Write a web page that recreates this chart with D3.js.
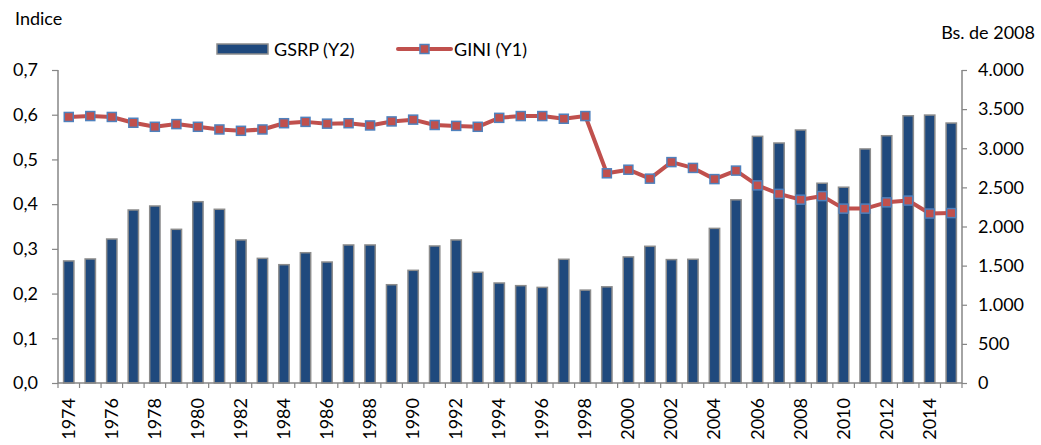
<!DOCTYPE html>
<html>
<head>
<meta charset="utf-8">
<script src="https://cdn.jsdelivr.net/npm/d3@7"></script>
<style>
  body { margin: 0; background: #fff; }
  svg text { font-family: Lato, "Open Sans", sans-serif; fill: #000; }
</style>
</head>
<body>
<div id="chart"></div>
<script>
// years on the x axis
var years = d3.range(1974, 2016);
// GINI index, left axis (Y1)
var gini = [0.595, 0.597, 0.595, 0.582, 0.573, 0.579, 0.573, 0.567, 0.564, 0.567,
            0.581, 0.584, 0.580, 0.581, 0.576, 0.585, 0.589, 0.577, 0.575, 0.573,
            0.593, 0.597, 0.597, 0.591, 0.597, 0.469, 0.477, 0.457, 0.494, 0.481,
            0.456, 0.475, 0.442, 0.423, 0.410, 0.418, 0.390, 0.390, 0.404, 0.408,
            0.379, 0.380];
// GSRP, Bs. de 2008, right axis (Y2)
var gsrp = [1560, 1585, 1840, 2211, 2262, 1964, 2317, 2220, 1828, 1593,
            1512, 1665, 1546, 1764, 1764, 1256, 1440, 1751, 1828, 1415,
            1278, 1244, 1222, 1581, 1187, 1229, 1611, 1747, 1577, 1581,
            1976, 2341, 3152, 3067, 3233, 2553, 2502, 2991, 3160, 3415,
            3424, 3322];
var leftTicks = [0, 0.1, 0.2, 0.3, 0.4, 0.5, 0.6, 0.7];
var rightTicks = [0, 500, 1000, 1500, 2000, 2500, 3000, 3500, 4000];

var width = 1041, height = 445;
var margin = {left: 58, right: 79, top: 70, bottom: 62};
var axisColor = "#868686";
var fs = "18px";

var esLocale = d3.formatLocale({decimal: ",", thousands: ".", grouping: [3], currency: ["", ""]});
var fmtLeft = esLocale.format(".1f");
var fmtRight = esLocale.format(",d");

var svg = d3.select("#chart")
  .append("svg")
  .attr("width", width)
  .attr("height", height);

var x = d3.scaleBand()
  .domain(years)
  .range([margin.left, width - margin.right])
  .paddingInner(0.52)
  .paddingOuter(0.26);

var yLeft = d3.scaleLinear().domain([0, 0.7]).range([height - margin.bottom, margin.top]);
var yRight = d3.scaleLinear().domain([0, 4000]).range([height - margin.bottom, margin.top]);

// bars
svg.append("g").selectAll("rect")
  .data(gsrp)
  .enter().append("rect")
  .attr("x", function(d, i){ return x(years[i]); })
  .attr("y", function(d){ return yRight(d); })
  .attr("width", x.bandwidth())
  .attr("height", function(d){ return yRight(0) - yRight(d); })
  .attr("fill", "#1F497D")
  .attr("stroke", "#8c8c8c")
  .attr("stroke-width", 1.5);

// left axis
var gl = svg.append("g")
  .attr("transform", "translate(" + margin.left + ",0)")
  .call(d3.axisLeft(yLeft).tickValues(leftTicks).tickFormat(fmtLeft).tickSize(6).tickPadding(14));

// right axis
var gr = svg.append("g")
  .attr("transform", "translate(" + (width - margin.right) + ",0)")
  .call(d3.axisRight(yRight).tickValues(rightTicks).tickFormat(fmtRight).tickSize(5).tickPadding(11));

// x axis: ticks at category boundaries
var xAxisG = svg.append("g")
  .attr("transform", "translate(0," + (height - margin.bottom) + ")");
xAxisG.append("line")
  .attr("x1", margin.left).attr("x2", width - margin.right)
  .attr("stroke", axisColor).attr("stroke-width", 1.5);
var step = x.step();
xAxisG.selectAll(".xt")
  .data(d3.range(years.length + 1))
  .enter().append("line")
  .attr("class", "xt")
  .attr("x1", function(i){ return margin.left + i * step; })
  .attr("x2", function(i){ return margin.left + i * step; })
  .attr("y1", 0).attr("y2", 5)
  .attr("stroke", axisColor).attr("stroke-width", 1.2);
xAxisG.selectAll(".xl")
  .data(years.filter(function(y){ return y % 2 === 0; }))
  .enter().append("text")
  .attr("class", "xl")
  .attr("transform", function(y){
    return "translate(" + (x(y) + x.bandwidth() / 2 + 6) + ",15) rotate(-90)";
  })
  .attr("text-anchor", "end")
  .style("font-size", fs)
  .text(function(y){ return y; });

[gl, gr].forEach(function(g){
  g.select(".domain").attr("stroke", axisColor).attr("stroke-width", 1.5);
  g.selectAll(".tick line").attr("stroke", axisColor).attr("stroke-width", 1.2);
  g.selectAll(".tick text").style("font-size", fs).style("font-family", "Lato, sans-serif").attr("fill", "#000");
});
gl.select(".domain").attr("d", "M0," + yLeft(0) + "V" + yLeft(0.7));
gr.select(".domain").attr("d", "M0," + yRight(0) + "V" + yRight(4000));

// GINI line
var line = d3.line()
  .x(function(d, i){ return x(years[i]) + x.bandwidth() / 2; })
  .y(function(d){ return yLeft(d); });

svg.append("path")
  .datum(gini)
  .attr("d", line)
  .attr("fill", "none")
  .attr("stroke", "#C0504D")
  .attr("stroke-width", 4)
  .attr("stroke-linejoin", "round");

svg.append("g").selectAll("rect")
  .data(gini)
  .enter().append("rect")
  .attr("x", function(d, i){ return x(years[i]) + x.bandwidth() / 2 - 4.5; })
  .attr("y", function(d){ return yLeft(d) - 4.5; })
  .attr("width", 9).attr("height", 9)
  .attr("fill", "#C0504D")
  .attr("stroke", "#4F81BD")
  .attr("stroke-width", 1.5);

// axis titles
svg.append("text").attr("x", 15).attr("y", 25).style("font-size", fs).text("Indice");
svg.append("text").attr("x", 1035).attr("y", 39).attr("text-anchor", "end").style("font-size", fs).text("Bs. de 2008");

// legend
var lg = svg.append("g");
lg.append("rect").attr("x", 217).attr("y", 44).attr("width", 51).attr("height", 10)
  .attr("fill", "#1F497D").attr("stroke", "#8c8c8c").attr("stroke-width", 1.5);
lg.append("text").attr("x", 274).attr("y", 56).style("font-size", fs).text("GSRP (Y2)");
lg.append("line").attr("x1", 398).attr("x2", 451).attr("y1", 49).attr("y2", 49)
  .attr("stroke", "#C0504D").attr("stroke-width", 4).attr("stroke-linecap", "round");
lg.append("rect").attr("x", 420).attr("y", 44.5).attr("width", 9).attr("height", 9)
  .attr("fill", "#C0504D").attr("stroke", "#4F81BD").attr("stroke-width", 1.5);
lg.append("text").attr("x", 454).attr("y", 56).style("font-size", fs).text("GINI (Y1)");
</script>
</body>
</html>
